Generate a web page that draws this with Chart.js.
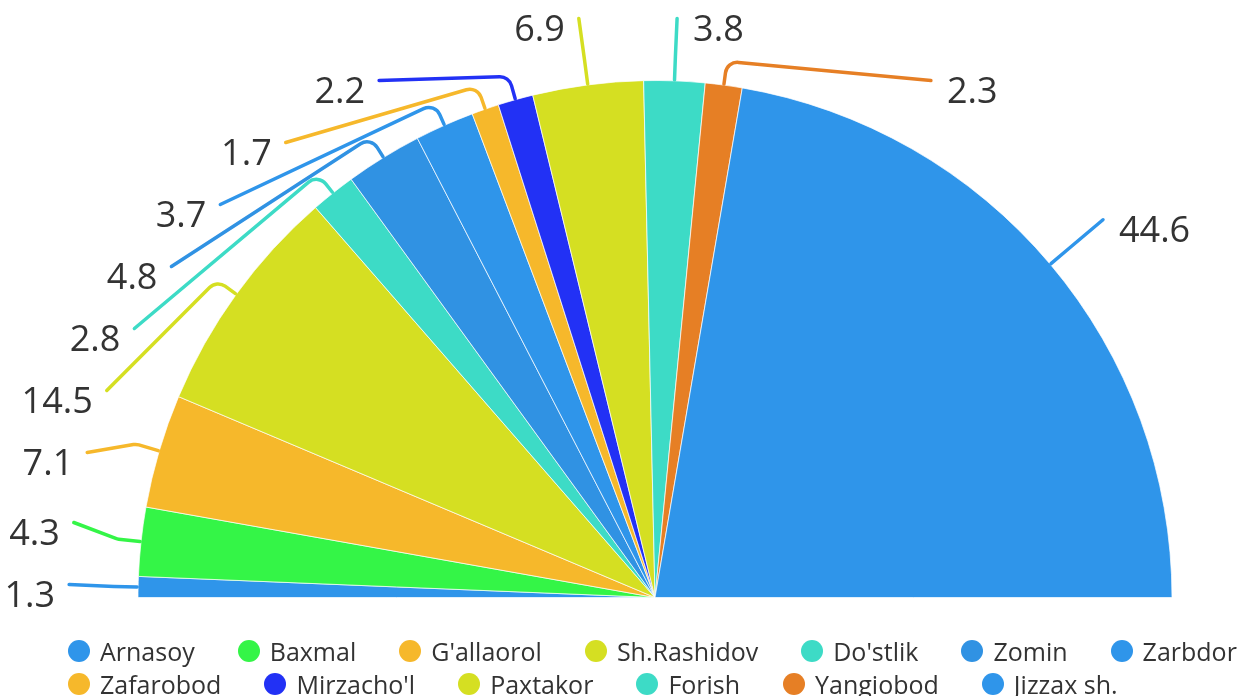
<!DOCTYPE html>
<html>
<head>
<meta charset="utf-8">
<script src="https://cdn.jsdelivr.net/npm/chart.js@4.4.0/dist/chart.umd.min.js"></script>
<style>
  html, body { margin: 0; padding: 0; background: #fff; overflow: hidden; }
  #wrap { position: relative; width: 1240px; height: 696px; overflow: hidden; }
  #pie { position: absolute; left: 0; top: 0; width: 1240px; height: 696px; }
  #legend { position: absolute; left: 68px; top: 634px; font-family: "Open Sans", sans-serif; font-size: 25px; color: #333; }
  .row { display: flex; white-space: nowrap; height: 33px; align-items: center; }
  .item { display: flex; align-items: center; margin-right: 43px; }
  .dot { width: 22px; height: 22px; border-radius: 50%; margin-right: 10px; flex: none; }
</style>
</head>
<body>
<div id="wrap">
  <canvas id="pie" width="1240" height="696"></canvas>
  <div id="legend"></div>
</div>
<script>
// districts share (%)
const districts = ["Arnasoy", "Baxmal", "G'allaorol", "Sh.Rashidov", "Do'stlik", "Zomin", "Zarbdor",
                   "Zafarobod", "Mirzacho'l", "Paxtakor", "Forish", "Yangiobod", "Jizzax sh."];
const shares = [1.3, 4.3, 7.1, 14.5, 2.8, 4.8, 3.7, 1.7, 2.2, 6.9, 3.8, 2.3, 44.6];
const sliceColors = ["#2f95ea", "#34f547", "#f6b82b", "#d5df22", "#3ddbc6", "#3092e3", "#2f95ea",
                     "#f6b82b", "#2231f5", "#d5df22", "#3ddbc6", "#e67f25", "#2f95ea"];
const legendRows = [7, 6];

/* outside labels with leader lines ---------------------- */
const outLabels = {
  id: "outLabels",
  afterDatasetsDraw(chart) {
    const ctx = chart.ctx;
    const arcs = chart.getDatasetMeta(0).data;
    const gap = 62;
    const items = arcs.map((arc, i) => {
      const p = arc.getProps(["x", "y", "startAngle", "endAngle", "outerRadius"], true);
      const mid = (p.startAngle + p.endAngle) / 2;
      const rl = p.outerRadius + 69;
      const minY = p.y - p.outerRadius - 62;
      const maxY = p.y - 13;
      let ey = p.y + rl * Math.sin(mid);
      ey = Math.min(Math.max(ey, minY), maxY);
      return { i, p, mid, rl, minY, maxY, ex: p.x + rl * Math.cos(mid), ey, moved: false,
               left: Math.cos(mid) < 0 };
    });

    // push overlapping labels apart, per side
    [true, false].forEach((side) => {
      const grp = items.filter((it) => it.left === side).sort((a, b) => a.ey - b.ey);
      for (let k = 1; k < grp.length; k++) {
        if (grp[k].ey < grp[k - 1].ey + gap) { grp[k].ey = grp[k - 1].ey + gap; grp[k].moved = true; }
      }
      const last = grp[grp.length - 1];
      if (last && last.ey > last.maxY) { last.ey = last.maxY; }
      for (let k = grp.length - 2; k >= 0; k--) {
        if (grp[k].ey > grp[k + 1].ey - gap) { grp[k].ey = grp[k + 1].ey - gap; grp[k].moved = true; }
      }
    });

    ctx.save();
    items.forEach((it) => {
      const { p, mid, rl } = it;
      if (it.moved) {
        const dy = p.y - it.ey;
        const dx = Math.sqrt(Math.max(rl * rl - dy * dy, 0));
        it.ex = it.left ? p.x - dx : p.x + dx;
      }
      const x0 = p.x + (p.outerRadius + 1) * Math.cos(mid);
      const y0 = p.y + (p.outerRadius + 1) * Math.sin(mid);
      const kx = p.x + (p.outerRadius + 24) * Math.cos(mid);
      const ky = p.y + (p.outerRadius + 24) * Math.sin(mid);

      ctx.beginPath();
      ctx.moveTo(x0, y0);
      ctx.arcTo(kx, ky, it.ex, it.ey, 12);
      ctx.lineTo(it.ex, it.ey);
      ctx.strokeStyle = sliceColors[it.i];
      ctx.lineWidth = 3.5;
      ctx.lineCap = "round";
      ctx.lineJoin = "round";
      ctx.stroke();

      ctx.font = '36px "Open Sans", sans-serif';
      ctx.fillStyle = "#333";
      ctx.textBaseline = "alphabetic";
      ctx.textAlign = it.left ? "right" : "left";
      ctx.fillText(String(shares[it.i]), it.left ? it.ex - 14 : it.ex + 16, it.ey + 22);
    });
    ctx.restore();
  },
};

new Chart(document.getElementById("pie"), {
  type: "pie",
  data: {
    labels: districts,
    datasets: [{
      data: shares,
      backgroundColor: sliceColors,
      borderColor: "rgba(255,255,255,0.7)",
      borderWidth: 1,
    }],
  },
  options: {
    responsive: false,
    animation: false,
    rotation: -90,
    circumference: 180,
    layout: { padding: { left: 137, right: 67, top: 80, bottom: 98 } },
    plugins: {
      legend: { display: false },
      tooltip: { enabled: false },
    },
  },
  plugins: [outLabels],
});

/* legend ------------------------------------------------ */
const legendEl = document.getElementById("legend");
let idx = 0;
legendRows.forEach((n) => {
  const row = document.createElement("div");
  row.className = "row";
  for (let k = 0; k < n; k++, idx++) {
    const item = document.createElement("div");
    item.className = "item";
    item.innerHTML = `<span class="dot" style="background:${sliceColors[idx]}"></span><span>${districts[idx]}</span>`;
    row.appendChild(item);
  }
  legendEl.appendChild(row);
});
</script>
</body>
</html>
